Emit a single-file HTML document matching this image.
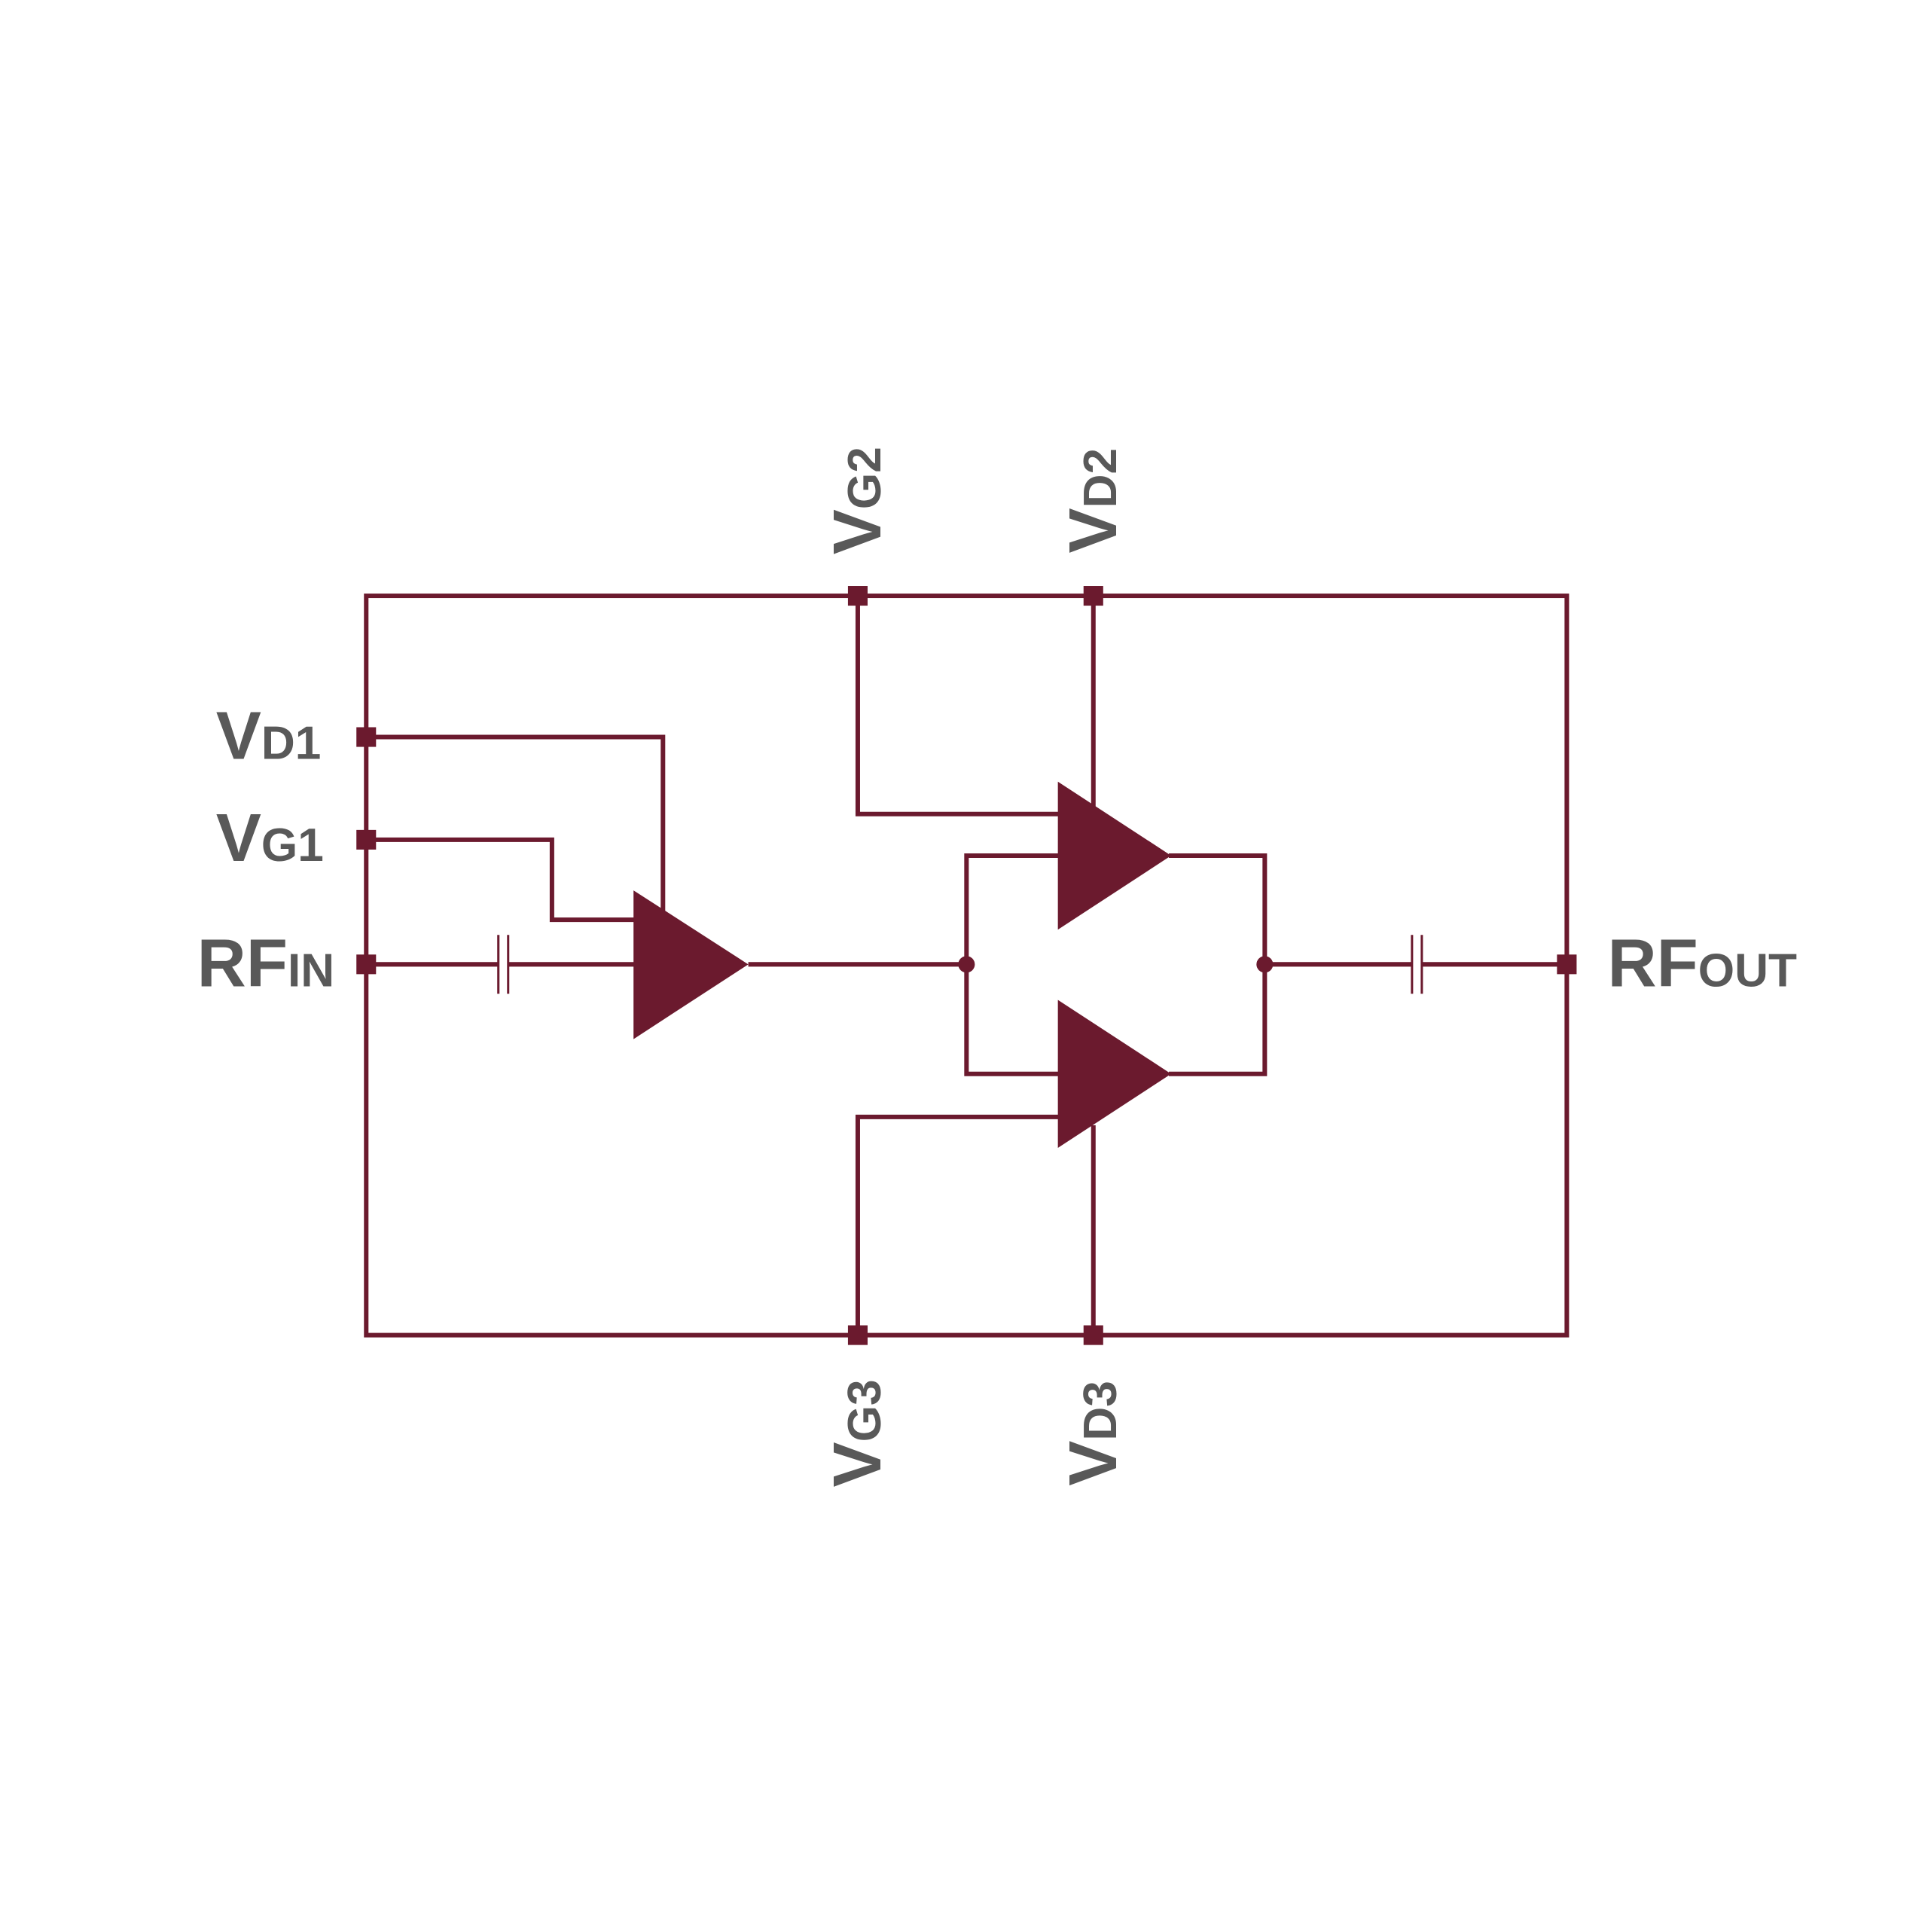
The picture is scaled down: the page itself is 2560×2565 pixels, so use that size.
<!DOCTYPE html>
<html><head><meta charset="utf-8"><style>html,body{margin:0;padding:0;background:#fff}</style></head>
<body>
<svg width="2560" height="2560" viewBox="0 0 2560 2560" xmlns="http://www.w3.org/2000/svg">
<g transform="scale(1.0026)">
<g fill="none" stroke="#6b1a2e" stroke-width="6">
<rect x="485" y="789" width="1590" height="979"/>
<polyline points="485,976 878,976 878,1210"/>
<polyline points="485,1112 731,1112 731,1218 845,1218"/>
<line x1="485" y1="1277" x2="660" y2="1277"/>
<line x1="673" y1="1277" x2="845" y2="1277"/>
<line x1="660" y1="1238" x2="660" y2="1316" stroke-width="3"/>
<line x1="673" y1="1238" x2="673" y2="1316" stroke-width="3"/>
<line x1="991" y1="1277" x2="1280" y2="1277"/>
<polyline points="1405,1133 1280,1133 1280,1422 1405,1422"/>
<polyline points="1548,1133 1675,1133 1675,1422 1548,1422"/>
<line x1="1675" y1="1277" x2="1870" y2="1277"/>
<line x1="1883" y1="1277" x2="2075" y2="1277"/>
<line x1="1870" y1="1238" x2="1870" y2="1316" stroke-width="3"/>
<line x1="1883" y1="1238" x2="1883" y2="1316" stroke-width="3"/>
<polyline points="1136,789 1136,1078 1405,1078"/>
<line x1="1448" y1="789" x2="1448" y2="1070"/>
<polyline points="1136,1768 1136,1479 1405,1479"/>
<line x1="1448" y1="1768" x2="1448" y2="1490"/>
</g>
<g fill="#6b1a2e">
<polygon points="839,1179 991,1277 839,1376"/>
<polygon points="1401,1035 1551,1133 1401,1231"/>
<polygon points="1401,1324 1551,1422 1401,1520"/>
<circle cx="1280" cy="1277" r="11"/>
<circle cx="1675" cy="1277" r="11"/>
<rect x="472" y="963" width="26" height="26"/>
<rect x="472" y="1099" width="26" height="26"/>
<rect x="472" y="1264" width="26" height="26"/>
<rect x="2062" y="1264" width="26" height="26"/>
<rect x="1123" y="776" width="26" height="26"/>
<rect x="1435" y="776" width="26" height="26"/>
<rect x="1123" y="1755" width="26" height="26"/>
<rect x="1435" y="1755" width="26" height="26"/>
</g>
<g fill="#595959" font-family="Liberation Sans, sans-serif" font-weight="bold">
<text x="286" y="1005" font-size="90">V<tspan font-size="62">D1</tspan></text>
<text x="286" y="1140" font-size="90">V<tspan font-size="62">G1</tspan></text>
<text x="261" y="1306" font-size="90">RF<tspan font-size="62">IN</tspan></text>
<text x="2129" y="1306" font-size="90">RF<tspan font-size="62">OUT</tspan></text>
<text transform="translate(1166,663) rotate(-90)" text-anchor="middle" font-size="90">V<tspan font-size="62">G2</tspan></text>
<text transform="translate(1478,663) rotate(-90)" text-anchor="middle" font-size="90">V<tspan font-size="62">D2</tspan></text>
<text transform="translate(1166,1898) rotate(-90)" text-anchor="middle" font-size="90">V<tspan font-size="62">G3</tspan></text>
<text transform="translate(1478,1898) rotate(-90)" text-anchor="middle" font-size="90">V<tspan font-size="62">D3</tspan></text>
</g>
</g>
</svg>
</body></html>
